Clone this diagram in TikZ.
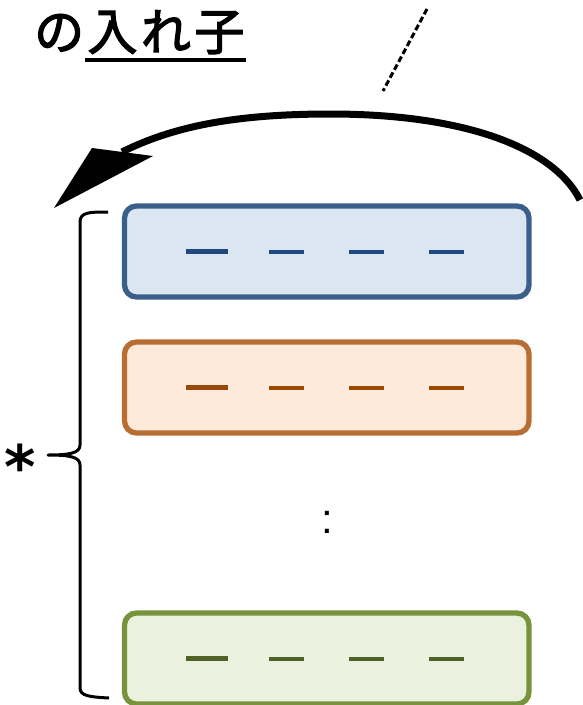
\documentclass[tikz,border=0pt]{standalone}
\usepackage{fontspec}
\newfontfamily\jp[LetterSpace=7,FakeBold=2.5]{Noto Sans CJK JP}
\newfontfamily\djv{DejaVu Sans}
\newfontfamily\lib{Liberation Sans}
\definecolor{blueS}{HTML}{3A5F8B}
\definecolor{blueF}{HTML}{DCE6F2}
\definecolor{blueD}{HTML}{1F497D}
\definecolor{oranS}{HTML}{B86E33}
\definecolor{oranF}{HTML}{FDEADA}
\definecolor{oranD}{HTML}{984807}
\definecolor{grnS}{HTML}{77933C}
\definecolor{grnF}{HTML}{EBF1DE}
\definecolor{grnD}{HTML}{4F6228}
\newcommand\dashrow[2]{%
  \draw[dashfirst, #2] ([xshift=-140.75pt]#1.center) -- ([xshift=-98.75pt]#1.center);
  \draw[dashrest, #2] ([xshift=-57.75pt]#1.center) -- ([xshift=-22.75pt]#1.center);
  \draw[dashrest, #2] ([xshift=22.25pt]#1.center) -- ([xshift=57.25pt]#1.center);
  \draw[dashrest, #2] ([xshift=102.25pt]#1.center) -- ([xshift=137.25pt]#1.center);
}
\begin{document}
\begin{tikzpicture}[x=1pt,y=-1pt,line cap=butt,
  itembox/.style={draw, line width=5.3pt, rounded corners=12pt,
    minimum width=404.5pt, minimum height=91pt, inner sep=0pt},
  dashfirst/.style={line width=5.2pt},
  dashrest/.style={line width=4pt},
  title/.style={font=\jp\fontsize{50}{56}\selectfont, inner sep=0pt, anchor=base},
  ul/.style={line width=3.5pt},
  brace/.style={line width=3pt, line join=round},
  bigarc/.style={line width=7pt}]
\useasboundingbox (0,0) rectangle (582,705);

% title
\node[title, anchor=base west] (no) at (34,50) {の};
\node[title] (ireko) at (166,50) {入れ子};
\draw[ul] (85,60) coordinate (ulA) -- (246,60) coordinate (ulB);

% dashed pointer
\coordinate (dA) at (427,9);
\coordinate (dB) at (383,91);
\draw[line width=3pt, dash pattern=on 6pt off 3pt] (dA) -- (dB);

% boxes
\node[itembox, draw=blueS, fill=blueF] (b1) at (326.75,251.5) {};
\node[itembox, draw=oranS, fill=oranF] (b2) at (326.75,387.5) {};
\node[itembox, draw=grnS, fill=grnF] (b3) at (326.75,658.5) {};
\dashrow{b1}{blueD}
\dashrow{b2}{oranD}
\dashrow{b3}{grnD}

% vertical ellipsis
\node[font=\lib\fontsize{42}{44}\selectfont, inner sep=0pt, anchor=base] (vdots) at (327,533) {:};

% brace and star
\coordinate (brTop) at (108,212);
\coordinate (brTip) at (48,455);
\coordinate (brBot) at (109,698);
\draw[brace] (brTop) .. controls (90,212) and (80,212) .. (80,222)
  -- (80,445) .. controls (80,453) and (70,455) .. (brTip)
  .. controls (70,455) and (80,457) .. (80,465)
  -- (80,688) .. controls (80,696) and (90,697) .. (brBot);
\node[font=\djv\bfseries\fontsize{60}{62}\selectfont, inner sep=0pt, anchor=base] (star) at (20,488) {*};

% big curved arrow
\coordinate (arcStart) at (580,200);
\coordinate (arcTop) at (330,114);
\coordinate (arcEnd) at (122,152);
\coordinate (tipP) at (54,208);
\coordinate (tipL) at (92,148);
\coordinate (tipR) at (153,156);
\draw[bigarc] (arcStart) .. controls (555,150) and (470,114) .. (arcTop)
  .. controls (230,114) and (170,128) .. (arcEnd);
\fill[line join=round] (tipP) -- (tipL) -- (tipR) -- cycle;
\end{tikzpicture}
\end{document}
